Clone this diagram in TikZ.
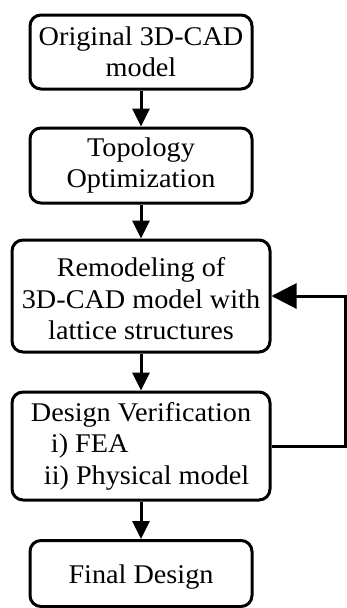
\documentclass[tikz,border=0pt]{standalone}
\usepackage{fontspec}
\setmainfont{Liberation Serif}[FakeStretch=1.045]
\usetikzlibrary{arrows.meta}
\begin{document}
\begin{tikzpicture}[x=1pt,y=-1pt,
  box/.style={draw,line width=3pt,rounded corners=11pt,align=center,inner sep=0pt,
    font=\fontsize{27}{31.5}\selectfont},
  flow/.style={line width=3pt,-{Triangle[length=18pt,width=17pt]}},
  back/.style={line width=3pt,-{Triangle[length=25pt,width=25pt]}}]
\useasboundingbox (0,0) rectangle (347,608);
\node[box,minimum width=222pt,minimum height=74pt] (b1) at (141,52) {Original 3D-CAD\\model};
\node[box,minimum width=222pt,minimum height=75pt] (b2) at (141,165.5) {Topology\\Optimization};
\node[box,minimum width=258pt,minimum height=112pt] (b3) at (141,296) {\rule{0pt}{25pt}Remodeling of\\3D-CAD model with\\lattice structures};
\node[box,minimum width=258pt,minimum height=108pt,align=left] (b4) at (141,446) {Design Verification\\\hspace*{20pt}i) FEA\\\hspace*{13pt}ii) Physical model};
\node[box,minimum width=222pt,minimum height=66pt] (b5) at (141,573.5) {\rule{0pt}{26pt}Final Design};
\draw[flow] (b1) -- (b2);
\draw[flow] (b2) -- (b3);
\draw[flow] (b3) -- (b4);
\draw[flow] (b4) -- (b5);
\coordinate (r) at (345.5,446);
\draw[back] (b4.east) -- (r) |- (b3.east);
\end{tikzpicture}
\end{document}
